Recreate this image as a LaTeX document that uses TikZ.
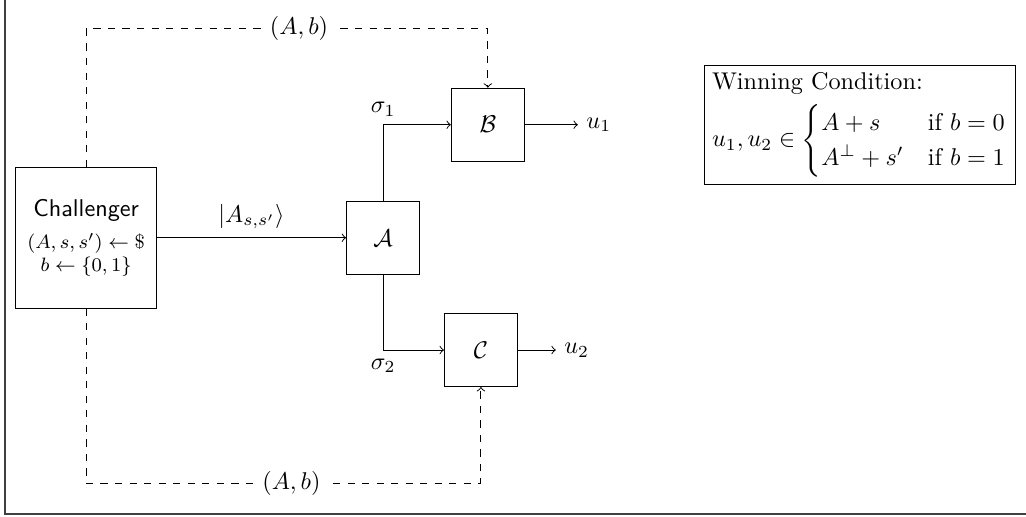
\documentclass[tikz,border=0pt]{standalone}
\usepackage{amsmath}
\usepackage{amssymb}
\usepackage{tikz}

\tikzset{
  party/.style={draw, minimum size=1.06cm, inner sep=2pt},
  chan/.style={->},
  share/.style={dashed, ->},
}

\begin{document}
\begin{tikzpicture}[>=to]
\useasboundingbox (0,0) rectangle (14.89,-7.50);

% frame
\draw[line width=0.8pt, black!75] (0.07,0.3) -- (0.07,-7.46) -- (15.2,-7.46);

% parties
\node[party, minimum size=2.04cm, align=center, font=\footnotesize] (chal) at (1.25,-3.45) {{\normalsize\textsf{Challenger}}\\[3.5pt] $(A,s,s')\leftarrow\$$\\ $b\leftarrow\{0,1\}$};
\node[party] (adv) at (5.56,-3.45) {$\mathcal{A}$};
\node[party] (bob) at (7.08,-1.81) {$\mathcal{B}$};
\node[party] (charlie) at (6.98,-5.08) {$\mathcal{C}$};

% outputs
\node (uone) at (8.69,-1.81) {$u_1$};
\node (utwo) at (8.37,-5.08) {$u_2$};

% winning condition
\node[draw, align=left, inner sep=3pt] (win) at (12.48,-1.81) {Winning Condition:\\[3pt] $u_1,u_2\in\begin{cases}A+s & \text{if } b=0\\ A^{\perp}+s' & \text{if } b=1\end{cases}$};

% corners of the dashed lines
\coordinate (ctop) at (1.25,-0.42);
\coordinate (btop) at (7.08,-0.42);
\coordinate (cbot) at (1.25,-7.01);
\coordinate (dbot) at (6.98,-7.01);

% quantum channel
\draw[chan] (chal) -- node[above] {$|A_{s,s'}\rangle$} (adv);
\draw[chan] (adv) |- node[pos=0.5, above] {$\sigma_1$} (bob);
\draw[chan] (adv) |- node[pos=0.5, below] {$\sigma_2$} (charlie);
\draw[chan] (bob) -- (uone);
\draw[chan] (charlie) -- (utwo);

% classical info
\draw[share] (chal) -- (ctop) -- node[pos=0.53, fill=white] {$(A,b)$} (btop) -- (bob);
\draw[share] (chal) -- (cbot) -- node[pos=0.52, fill=white] {$(A,b)$} (dbot) -- (charlie);
\end{tikzpicture}
\end{document}
